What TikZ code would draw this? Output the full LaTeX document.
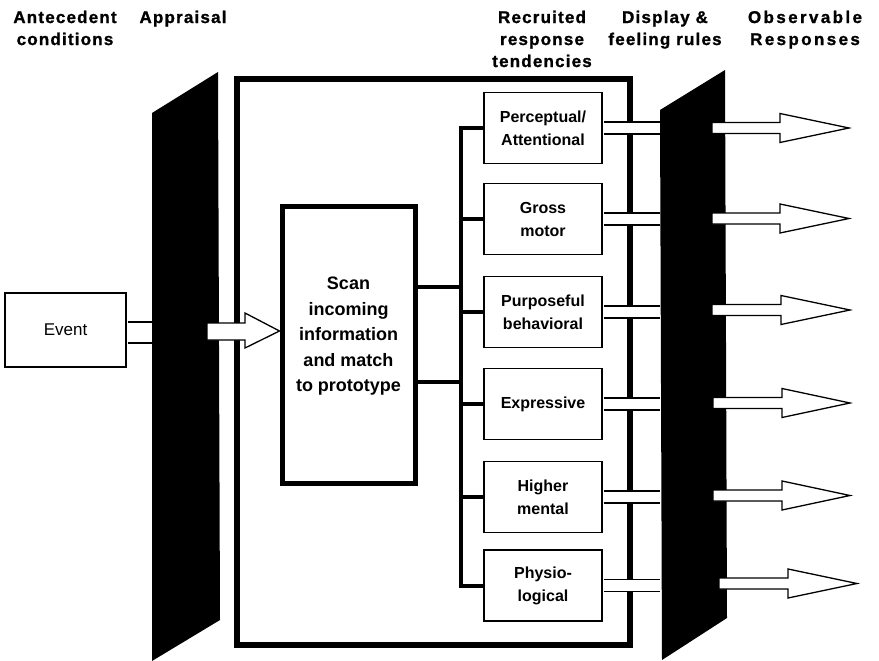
\documentclass[tikz,border=0pt]{standalone}
\usepackage{fontspec}
\setmainfont{Liberation Sans}
\newfontfamily\hdrfont[LetterSpace=7,FakeBold=1.2]{Liberation Sans}
\newfontfamily\hdrwide[LetterSpace=14,FakeBold=1.2]{Liberation Sans}
\begin{document}
\begin{tikzpicture}[x=1pt,y=-1pt,
  hdr/.style={font=\hdrfont\bfseries\fontsize{17}{22}\selectfont, align=center, anchor=north, inner sep=0pt},
  hdrw/.style={hdr, font=\hdrwide\bfseries\fontsize{17}{22}\selectfont},
  evbox/.style={draw, line width=1.6pt, minimum width=121pt, minimum height=74pt, inner sep=0pt, font=\fontsize{17}{20}\selectfont},
  scanbox/.style={draw, line width=5pt, minimum width=133pt, minimum height=277pt, inner sep=0pt},
  scantext/.style={font=\bfseries\fontsize{18}{25.5}\selectfont, align=center, inner sep=0pt},
  rbox/.style={draw, fill=white, line width=1.6pt, minimum width=118pt, minimum height=71pt, inner sep=0pt, align=center, font=\bfseries\fontsize{16}{23}\selectfont},
  bigbox/.style={draw, line width=6pt, minimum width=393pt, minimum height=566pt, inner sep=0pt},
  panel/.style={fill=black},
  wire/.style={line width=4pt},
  barline/.style={line width=1.5pt},
  hollowarrow/.style={draw, fill=white, line width=1.3pt, line join=miter}
]
\useasboundingbox (0,0) rectangle (879,661);

% panels
\fill[panel] (152,113) -- (218,72) -- (220,620) -- (152,661) -- cycle;
\fill[panel] (660,110) -- (725,70) -- (727,618) -- (662,660) -- cycle;
\coordinate (apl) at (152,0);
\coordinate (rpl) at (660,0);
\coordinate (bus) at (461,0);

% boxes
\node[bigbox] (big) at (433.5,362) {};
\node[evbox] (ev) at (65.5,330) {Event};
\node[scanbox] (scan) at (348.5,344.5) {};
\node[rbox] (p1) at (543,128) {Perceptual/\\Attentional};
\node[rbox] (p2) at (543,219) {Gross\\motor};
\node[rbox] (p3) at (543,312) {Purposeful\\behavioral};
\node[rbox] (p4) at (543,404) {Expressive};
\node[rbox] (p5) at (543,497) {Higher\\mental};
\node[rbox] (p6) at (543,585.5) {Physio-\\logical};

% event bar
\coordinate (evo) at ([yshift=-2.5pt]ev.east);
\coordinate (evi) at (evo -| apl);
\fill[white] ([xshift=0.8pt,yshift=10.5pt]evo) rectangle ([yshift=-10.5pt]evi);
\draw[barline] ([xshift=0.8pt,yshift=10.5pt]evo) -- ([yshift=10.5pt]evi)
               ([xshift=0.8pt,yshift=-10.5pt]evo) -- ([yshift=-10.5pt]evi);

% appraisal arrow into scan box
\coordinate (atip) at ([yshift=13.5pt]scan.west);
\draw[hollowarrow] (207,323) -- (245,323) -- (245,313) -- (atip) -- (245,348) -- (245,340) -- (207,340) -- cycle;

% bars from response boxes to display panel
\foreach \n in {p1,p2,p3,p4,p5,p6} {
  \coordinate (\n-o) at (\n.east -| rpl);
  \fill[white] ([xshift=0.8pt,yshift=6pt]\n.east) rectangle ([yshift=-6pt]\n-o);
  \draw[barline] ([xshift=0.8pt,yshift=6pt]\n.east) -- ([yshift=6pt]\n-o)
                 ([xshift=0.8pt,yshift=-6pt]\n.east) -- ([yshift=-6pt]\n-o);
}

% observable response arrows
\foreach \y/\t/\h/\p in {128/712/780/849, 218.5/712/780/849, 310/712/781/850, 403/713/782/850, 495.5/713/782/850, 583.5/719/788/857} {
  \draw[hollowarrow] (\t,\y-5.5) -- (\h,\y-5.5) -- (\h,\y-14.5) -- (\p,\y) -- (\h,\y+14.5) -- (\h,\y+5.5) -- (\t,\y+5.5) -- cycle;
}

% scan outputs and bus
\coordinate (s1) at ([yshift=57.5pt]scan.east);
\coordinate (s2) at ([yshift=-37.5pt]scan.east);
\draw[wire] (s1) -- (s1 -| bus);
\draw[wire] (s2) -- (s2 -| bus);
\draw[wire] (p1.west) -- (p1.west -| bus) -- (p6.west -| bus) -- (p6.west);
\foreach \n in {p2,p3,p4,p5} {
  \draw[wire] (\n.west) -- (\n.west -| bus);
}

% scan text
\node[scantext] (scantxt) at (348.5,336.5) {Scan\\incoming\\information\\and match\\to prototype};

% headers
\node[hdr] (h1) at (65,10.5) {Antecedent\\conditions};
\node[hdr] (h2) at (183,10.5) {Appraisal};
\node[hdr] (h3) at (542,10.5) {Recruited\\response\\tendencies};
\node[hdr] (h4) at (665,10.5) {Display \&\\feeling rules};
\node[hdrw] (h5) at (805,10.5) {Observable\\Responses};
\end{tikzpicture}
\end{document}
